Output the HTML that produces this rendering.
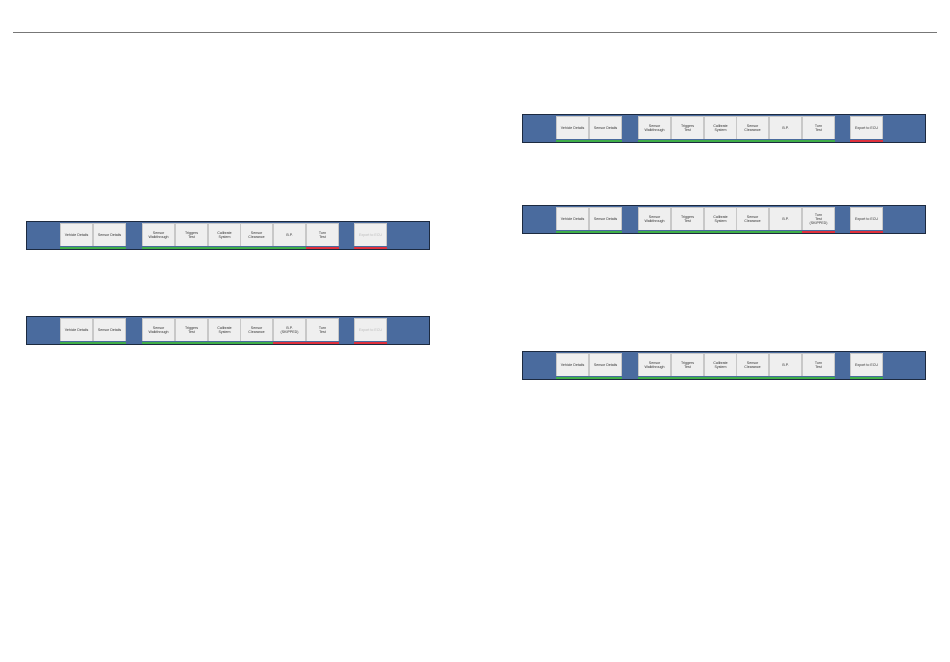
<!DOCTYPE html>
<html><head><meta charset="utf-8"><style>
body{margin:0;width:950px;height:662px;background:#fff;position:relative;overflow:hidden;font-family:"Liberation Sans",sans-serif}
.line{position:absolute;left:13px;top:32px;width:924px;height:1px;background:#777}
.bar{position:absolute;width:402px;height:27px;background:#4a6b9e;border:1px solid #1c2a40}
.b{position:absolute;top:1px;width:31px;height:22px;background:#efefef;border:1px solid #c8c8c8;border-bottom:none;font-size:3.6px;line-height:4px;color:#333;display:flex;align-items:center;justify-content:center;text-align:center}
.b::after{content:"";position:absolute;left:-1px;right:-1px;bottom:-3px;height:2px;background:var(--u)}
.g{--u:#3fae49}.r{--u:#e0303c}.d{color:#bbb}
</style></head><body>
<div class="line"></div>

<div class="bar" style="left:26px;top:221px">
<div class="b g" style="left:33px">Vehicle Details</div>
<div class="b g" style="left:66px">Sensor Details</div>
<div class="b g" style="left:115px">Sensor<br>Walkthrough</div>
<div class="b g" style="left:148px">Triggers<br>Test</div>
<div class="b g" style="left:181px">Calibrate<br>System</div>
<div class="b g" style="left:213px">Sensor<br>Clearance</div>
<div class="b g" style="left:246px">B.P.</div>
<div class="b r" style="left:279px">Turn<br>Test</div>
<div class="b r d" style="left:327px">Export to ECU</div>
</div>

<div class="bar" style="left:26px;top:316px">
<div class="b g" style="left:33px">Vehicle Details</div>
<div class="b g" style="left:66px">Sensor Details</div>
<div class="b g" style="left:115px">Sensor<br>Walkthrough</div>
<div class="b g" style="left:148px">Triggers<br>Test</div>
<div class="b g" style="left:181px">Calibrate<br>System</div>
<div class="b g" style="left:213px">Sensor<br>Clearance</div>
<div class="b r" style="left:246px">B.P.<br>(SKIPPED)</div>
<div class="b r" style="left:279px">Turn<br>Test</div>
<div class="b r d" style="left:327px">Export to ECU</div>
</div>

<div class="bar" style="left:522px;top:114px">
<div class="b g" style="left:33px">Vehicle Details</div>
<div class="b g" style="left:66px">Sensor Details</div>
<div class="b g" style="left:115px">Sensor<br>Walkthrough</div>
<div class="b g" style="left:148px">Triggers<br>Test</div>
<div class="b g" style="left:181px">Calibrate<br>System</div>
<div class="b g" style="left:213px">Sensor<br>Clearance</div>
<div class="b g" style="left:246px">B.P.</div>
<div class="b g" style="left:279px">Turn<br>Test</div>
<div class="b r" style="left:327px">Export to ECU</div>
</div>

<div class="bar" style="left:522px;top:205px">
<div class="b g" style="left:33px">Vehicle Details</div>
<div class="b g" style="left:66px">Sensor Details</div>
<div class="b g" style="left:115px">Sensor<br>Walkthrough</div>
<div class="b g" style="left:148px">Triggers<br>Test</div>
<div class="b g" style="left:181px">Calibrate<br>System</div>
<div class="b g" style="left:213px">Sensor<br>Clearance</div>
<div class="b g" style="left:246px">B.P.</div>
<div class="b r" style="left:279px">Turn<br>Test<br>(SKIPPED)</div>
<div class="b r" style="left:327px">Export to ECU</div>
</div>

<div class="bar" style="left:522px;top:351px">
<div class="b g" style="left:33px">Vehicle Details</div>
<div class="b g" style="left:66px">Sensor Details</div>
<div class="b g" style="left:115px">Sensor<br>Walkthrough</div>
<div class="b g" style="left:148px">Triggers<br>Test</div>
<div class="b g" style="left:181px">Calibrate<br>System</div>
<div class="b g" style="left:213px">Sensor<br>Clearance</div>
<div class="b g" style="left:246px">B.P.</div>
<div class="b g" style="left:279px">Turn<br>Test</div>
<div class="b g" style="left:327px">Export to ECU</div>
</div>
</body></html>
